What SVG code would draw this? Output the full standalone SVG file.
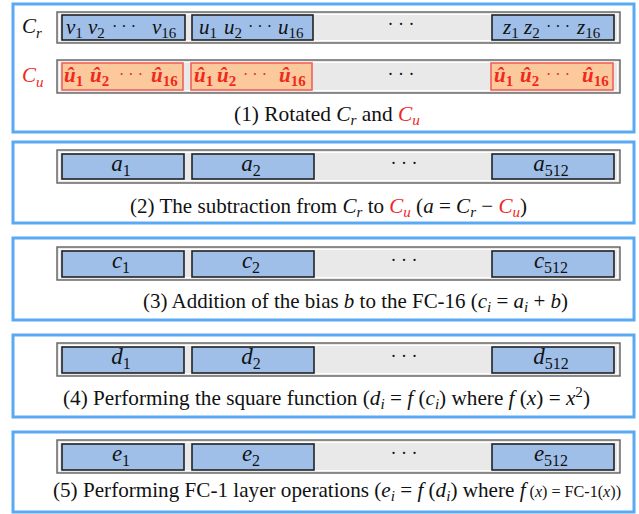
<svg xmlns="http://www.w3.org/2000/svg" width="639" height="514" viewBox="0 0 639 514">
<style>
.panel{fill:#fff;stroke:#5aa9f4;stroke-width:3}
.bar{fill:#e9e9e9;stroke:#5f5f5f;stroke-width:1.4}
.barin{fill:none;stroke:#fff;stroke-width:1}
.cb{fill:#9fbfe9;stroke:#222;stroke-width:1.6}
.co{fill:#fbc99b;stroke:#f0625a;stroke-width:1.6}
text{font-family:'Liberation Serif','DejaVu Serif',serif;fill:#111}
.m{font-style:italic;font-size:21px}
.L{font-style:italic;font-size:23px}
.s{font-size:15px;font-style:normal}
.S{font-size:16px;font-style:normal}
.si{font-size:15px;font-style:italic}
.cap{font-size:21px}
.red{fill:#f0281e}
.hat{font-style:italic;font-weight:bold;font-size:21px;fill:#f0281e}
.hs{font-size:15px;font-style:normal;font-weight:bold}
.dt{font-size:16px;font-style:normal;font-weight:normal}
.dots{font-size:18px}
</style>
<rect width="639" height="514" fill="#fff"/>

<g id="panel1">
<rect class="panel" x="13" y="4" width="621" height="128"/>
<text class="m" x="22" y="33">C<tspan class="si" dy="5">r</tspan></text>
<text class="m red" x="22" y="82">C<tspan class="si" dy="5">u</tspan></text>
<rect class="bar" x="57" y="12" width="563" height="31"/>
<rect class="barin" x="59.5" y="14.5" width="558" height="26"/>
<rect class="cb" x="62" y="15" width="123" height="25"/>
<rect class="cb" x="192" y="15" width="121" height="25"/>
<rect class="cb" x="492" y="15" width="122" height="25"/>
<text class="m" y="34"><tspan x="66">v</tspan><tspan class="s" dy="4">1</tspan><tspan x="88" dy="-4">v</tspan><tspan class="s" dy="4">2</tspan><tspan class="dt" x="112" dy="-6">· · ·</tspan><tspan x="152" dy="2">v</tspan><tspan class="s" dy="4">16</tspan></text>
<text class="m" y="34"><tspan x="199">u</tspan><tspan class="s" dy="4">1</tspan><tspan x="224" dy="-4">u</tspan><tspan class="s" dy="4">2</tspan><tspan class="dt" x="248" dy="-6">· · ·</tspan><tspan x="278" dy="2">u</tspan><tspan class="s" dy="4">16</tspan></text>
<text class="m" y="34"><tspan x="503">z</tspan><tspan class="s" dy="4">1</tspan><tspan x="524" dy="-4">z</tspan><tspan class="s" dy="4">2</tspan><tspan class="dt" x="546" dy="-6">· · ·</tspan><tspan x="577" dy="2">z</tspan><tspan class="s" dy="4">16</tspan></text>
<text class="dots" x="401" y="30" text-anchor="middle">·  ·  ·</text>
<rect class="bar" x="57" y="60" width="563" height="33"/>
<rect class="barin" x="59.5" y="62.5" width="558" height="28"/>
<rect class="co" x="62" y="63" width="121" height="27"/>
<rect class="co" x="191" y="63" width="121" height="27"/>
<rect class="co" x="491" y="63" width="122" height="27"/>
<text class="hat" y="82"><tspan x="64">û</tspan><tspan class="hs" dy="4">1</tspan><tspan x="90" dy="-4">û</tspan><tspan class="hs" dy="4">2</tspan><tspan class="dt" x="119" dy="-6">· · ·</tspan><tspan x="151" dy="2">û</tspan><tspan class="hs" dy="4">16</tspan></text>
<text class="hat" y="82"><tspan x="194">û</tspan><tspan class="hs" dy="4">1</tspan><tspan x="217" dy="-4">û</tspan><tspan class="hs" dy="4">2</tspan><tspan class="dt" x="243" dy="-6">· · ·</tspan><tspan x="279" dy="2">û</tspan><tspan class="hs" dy="4">16</tspan></text>
<text class="hat" y="82"><tspan x="494">û</tspan><tspan class="hs" dy="4">1</tspan><tspan x="520" dy="-4">û</tspan><tspan class="hs" dy="4">2</tspan><tspan class="dt" x="546" dy="-6">· · ·</tspan><tspan x="582" dy="2">û</tspan><tspan class="hs" dy="4">16</tspan></text>
<text class="dots" x="401" y="80" text-anchor="middle">·  ·  ·</text>
<text class="cap" x="234" y="121" textLength="186" lengthAdjust="spacingAndGlyphs">(1) Rotated <tspan font-style="italic">C</tspan><tspan class="si" dy="4">r</tspan><tspan dy="-4"> and </tspan><tspan class="red" font-style="italic">C</tspan><tspan class="si red" dy="4">u</tspan></text>
</g>

<g id="panel2">
<rect class="panel" x="13" y="142" width="621" height="81"/>
<rect class="bar" x="57" y="150" width="563" height="33"/>
<rect class="barin" x="59.5" y="152.5" width="558" height="28"/>
<rect class="cb" x="62" y="154" width="122" height="25"/>
<rect class="cb" x="192" y="154" width="122" height="25"/>
<rect class="cb" x="492" y="154" width="122" height="25"/>
<text class="L" x="121" y="171" text-anchor="middle">a<tspan class="S" dy="5">1</tspan></text>
<text class="L" x="251" y="171" text-anchor="middle">a<tspan class="S" dy="5">2</tspan></text>
<text class="L" x="551" y="171" text-anchor="middle">a<tspan class="S" dy="5">512</tspan></text>
<text class="dots" x="404" y="169" text-anchor="middle">·  ·  ·</text>
<text class="cap" x="130" y="213" textLength="397" lengthAdjust="spacingAndGlyphs">(2) The subtraction from <tspan font-style="italic">C</tspan><tspan class="si" dy="4">r</tspan><tspan dy="-4"> to </tspan><tspan class="red" font-style="italic">C</tspan><tspan class="si red" dy="4">u</tspan><tspan dy="-4"> (</tspan><tspan font-style="italic">a</tspan> = <tspan font-style="italic">C</tspan><tspan class="si" dy="4">r</tspan><tspan dy="-4"> − </tspan><tspan class="red" font-style="italic">C</tspan><tspan class="si red" dy="4">u</tspan><tspan dy="-4">)</tspan></text>
</g>

<g id="panel3">
<rect class="panel" x="13" y="238" width="621" height="82"/>
<rect class="bar" x="57" y="247" width="563" height="33"/>
<rect class="barin" x="59.5" y="249.5" width="558" height="28"/>
<rect class="cb" x="62" y="251" width="122" height="26"/>
<rect class="cb" x="192" y="251" width="122" height="26"/>
<rect class="cb" x="492" y="251" width="122" height="26"/>
<text class="L" x="121" y="268" text-anchor="middle">c<tspan class="S" dy="5">1</tspan></text>
<text class="L" x="251" y="268" text-anchor="middle">c<tspan class="S" dy="5">2</tspan></text>
<text class="L" x="551" y="268" text-anchor="middle">c<tspan class="S" dy="5">512</tspan></text>
<text class="dots" x="404" y="266" text-anchor="middle">·  ·  ·</text>
<text class="cap" x="143" y="308" textLength="425" lengthAdjust="spacingAndGlyphs">(3)  Addition of the bias <tspan font-style="italic">b</tspan> to the FC-16 (<tspan font-style="italic">c</tspan><tspan class="si" dy="4">i</tspan><tspan dy="-4"> = </tspan><tspan font-style="italic">a</tspan><tspan class="si" dy="4">i</tspan><tspan dy="-4"> + </tspan><tspan font-style="italic">b</tspan>)</text>
</g>

<g id="panel4">
<rect class="panel" x="13" y="335" width="621" height="82"/>
<rect class="bar" x="57" y="343" width="563" height="33"/>
<rect class="barin" x="59.5" y="345.5" width="558" height="28"/>
<rect class="cb" x="62" y="347" width="122" height="26"/>
<rect class="cb" x="192" y="347" width="122" height="26"/>
<rect class="cb" x="492" y="347" width="122" height="26"/>
<text class="L" x="121" y="364" text-anchor="middle">d<tspan class="S" dy="5">1</tspan></text>
<text class="L" x="251" y="364" text-anchor="middle">d<tspan class="S" dy="5">2</tspan></text>
<text class="L" x="551" y="364" text-anchor="middle">d<tspan class="S" dy="5">512</tspan></text>
<text class="dots" x="404" y="362" text-anchor="middle">·  ·  ·</text>
<text class="cap" x="63" y="405" textLength="527" lengthAdjust="spacingAndGlyphs">(4)  Performing the square function  (<tspan font-style="italic">d</tspan><tspan class="si" dy="4">i</tspan><tspan dy="-4"> = </tspan><tspan font-style="italic">f</tspan> (<tspan font-style="italic">c</tspan><tspan class="si" dy="4">i</tspan><tspan dy="-4">) where </tspan><tspan font-style="italic">f</tspan> (<tspan font-style="italic">x</tspan>) = <tspan font-style="italic">x</tspan><tspan class="s" dy="-8">2</tspan><tspan dy="8">)</tspan></text>
</g>

<g id="panel5">
<rect class="panel" x="13" y="432" width="621" height="80"/>
<rect class="bar" x="57" y="440" width="563" height="33"/>
<rect class="barin" x="59.5" y="442.5" width="558" height="28"/>
<rect class="cb" x="62" y="444" width="122" height="26"/>
<rect class="cb" x="192" y="444" width="122" height="26"/>
<rect class="cb" x="492" y="444" width="122" height="26"/>
<text class="L" x="121" y="461" text-anchor="middle">e<tspan class="S" dy="5">1</tspan></text>
<text class="L" x="251" y="461" text-anchor="middle">e<tspan class="S" dy="5">2</tspan></text>
<text class="L" x="551" y="461" text-anchor="middle">e<tspan class="S" dy="5">512</tspan></text>
<text class="dots" x="404" y="459" text-anchor="middle">·  ·  ·</text>
<text class="cap" x="53" y="497" textLength="568" lengthAdjust="spacingAndGlyphs">(5) Performing FC-1 layer operations (<tspan font-style="italic">e</tspan><tspan class="si" dy="4">i</tspan><tspan dy="-4"> = </tspan><tspan font-style="italic">f</tspan> (<tspan font-style="italic">d</tspan><tspan class="si" dy="4">i</tspan><tspan dy="-4">) where </tspan><tspan font-style="italic">f</tspan><tspan font-size="16"> (<tspan font-style="italic">x</tspan>) = FC-1(<tspan font-style="italic">x</tspan>))</tspan></text>
</g>
</svg>
